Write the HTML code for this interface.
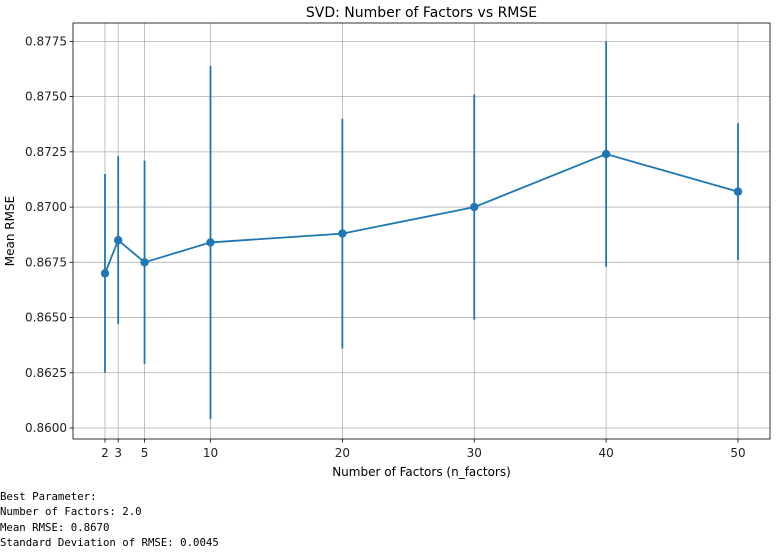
<!DOCTYPE html>
<html><head><meta charset="utf-8"><style>
body{margin:0;background:#fff;width:782px;height:552px;overflow:hidden;font-family:"DejaVu Sans","Liberation Sans",sans-serif}
pre{position:absolute;left:0;top:489px;margin:0;font-family:"DejaVu Sans Mono","Liberation Mono",monospace;font-size:10.7px;line-height:15.3px;color:#000}
</style></head><body>
<svg id="chart" width="782" height="480" style="position:absolute;left:0;top:0" font-family="DejaVu Sans, Liberation Sans, sans-serif"></svg>
<pre>Best Parameter:
Number of Factors: 2.0
Mean RMSE: 0.8670
Standard Deviation of RMSE: 0.0045</pre>
<script>
const factors=[2,3,5,10,20,30,40,50];
const meanRmse=[0.8670,0.8685,0.8675,0.8684,0.8688,0.8700,0.8724,0.8707];
const stdRmse=[0.0045,0.0038,0.0046,0.0080,0.0052,0.0051,0.0051,0.0031];
const yTicks=[0.8600,0.8625,0.8650,0.8675,0.8700,0.8725,0.8750,0.8775];
const xTicks=[2,3,5,10,20,30,40,50];
const L=73,R=770,T=23,B=439;
const sx=v=>105+(v-2)*(738-105)/48;
const sy=v=>428-(v-0.86)/0.0025*55.23;
const svg=document.getElementById('chart');
const NS='http://www.w3.org/2000/svg';
function mk(t,a,p){const e=document.createElementNS(NS,t);for(const k in a)e.setAttribute(k,a[k]);(p||svg).appendChild(e);return e;}
let e;
yTicks.forEach(v=>{const y=sy(v);
e=mk('line',{x1:L,x2:R,y1:y,y2:y,stroke:'#b0b0b0','stroke-width':0.8});


mk('line',{x1:L-3.5,x2:L,y1:y,y2:y,stroke:'#000','stroke-width':0.8});
e=mk('text',{x:L-6,y:y+4,'text-anchor':'end','font-size':12,fill:'#222'});e.textContent=v.toFixed(4);

});
xTicks.forEach(v=>{const x=sx(v);
e=mk('line',{x1:x,x2:x,y1:T,y2:B,stroke:'#b0b0b0','stroke-width':0.8});


mk('line',{x1:x,x2:x,y1:B,y2:B+3.5,stroke:'#000','stroke-width':0.8});
e=mk('text',{x:x,y:B+18,'text-anchor':'middle','font-size':12,fill:'#222'});e.textContent=v;

});
factors.forEach((f,i)=>{
e=mk('line',{x1:sx(f),x2:sx(f),y1:sy(meanRmse[i]-stdRmse[i]),y2:sy(meanRmse[i]+stdRmse[i]),stroke:'#1f77b4','stroke-width':1.8});

});
e=mk('polyline',{points:factors.map((f,i)=>sx(f)+','+sy(meanRmse[i])).join(' '),fill:'none',stroke:'#1f77b4','stroke-width':1.8});


factors.forEach((f,i)=>{
e=mk('circle',{cx:sx(f),cy:sy(meanRmse[i]),r:4.2,fill:'#1f77b4'});

});
e=mk('rect',{x:L,y:T,width:R-L,height:B-T,fill:'none',stroke:'#000','stroke-width':0.8});


e=mk('text',{x:(L+R)/2,y:17,'text-anchor':'middle','font-size':14,fill:'#000'});e.textContent='SVD: Number of Factors vs RMSE';


e=mk('text',{x:(L+R)/2,y:476,'text-anchor':'middle','font-size':12,fill:'#000'});e.textContent='Number of Factors (n_factors)';


e=mk('text',{x:0,y:0,'text-anchor':'middle','font-size':12,fill:'#000',transform:'translate(14,231) rotate(-90)'});e.textContent='Mean RMSE';


</script>
</body></html>
